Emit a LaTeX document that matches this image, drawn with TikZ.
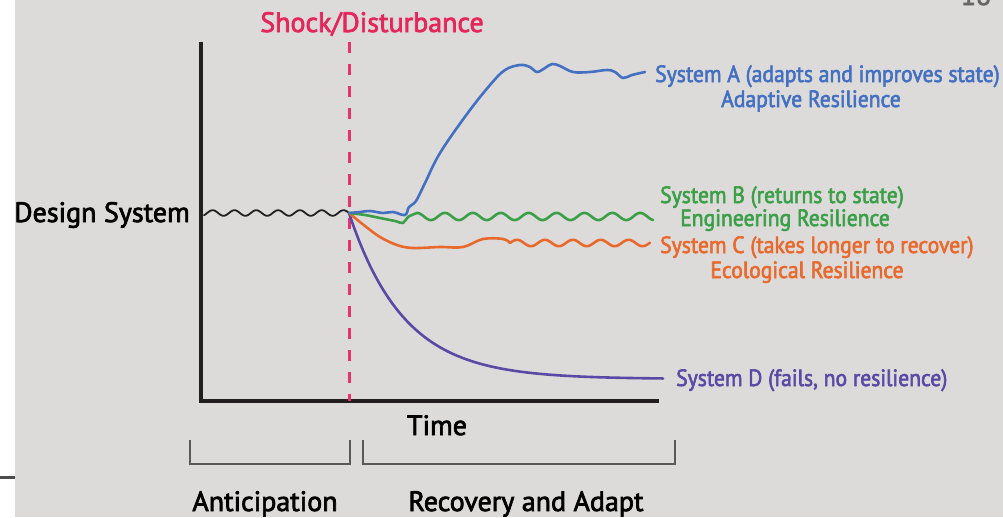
\documentclass[tikz,border=0pt]{standalone}
\usepackage{fontspec}
\setmainfont[FakeBold=2.5]{PT Sans}
\newfontfamily\lblfont[FakeStretch=0.92,FakeBold=2.5]{PT Sans}
\begin{document}
\begin{tikzpicture}[x=1pt,y=-1pt,
  big/.style={inner sep=0pt,font=\fontsize{28}{30}\selectfont},
  lbl/.style={inner sep=0pt,font=\lblfont\fontsize{23.5}{26}\selectfont},
  curve/.style={line width=2.6pt,line cap=round,line join=round},
  bracket/.style={draw=black!65,line width=1.2pt}]
\definecolor{bg}{HTML}{DCDBDA}
\definecolor{axis}{HTML}{231F20}
\definecolor{cA}{HTML}{4470C2}
\definecolor{cB}{HTML}{3B9F48}
\definecolor{cC}{HTML}{E9692D}
\definecolor{cD}{HTML}{5A4AA5}
\definecolor{shock}{HTML}{E5265A}
\definecolor{shockline}{HTML}{E6336B}
\useasboundingbox (0,0) rectangle (1003,517);
\fill[white] (0,0) rectangle (15,517);
\fill[bg] (15,0) rectangle (1003,517);
\coordinate (sl0) at (0,477); \coordinate (sl1) at (15,477);
\draw[black!70,line width=3pt] (sl0) -- (sl1);
\node[anchor=base,text=black!60,font=\fontsize{28}{30}\selectfont] (pg) at (976,5) {18};
% axes
\coordinate (o) at (201,401);
\coordinate (ytop) at (201,42);
\coordinate (xend) at (659,401);
\draw[axis,line width=3.5pt] (ytop) -- (o) -- (xend);
% shock line
\coordinate (s0) at (349,42);
\coordinate (s1) at (349,401);
\draw[shockline,line width=3pt,dash pattern=on 11pt off 11pt] (s0) -- (s1);
\node[big,text=shock,anchor=base] (shk) at (372,32) {Shock/Disturbance};
% baseline wave
\draw[axis,line width=1.8pt,line cap=round] plot[domain=204:349,samples=120] (\x,{213+2.8*sin((\x-349)*16.5)});
% System D
\draw[cD,curve] plot[domain=349:663,samples=120] (\x,{379-166*exp(-(\x-349)/55)});
% System C
\draw[cC,curve] plot[smooth,tension=0.6] coordinates {(349,213) (365,226) (380,237) (397,245) (413,248) (440,247) (463,247) (483,239) (503,239) (510,243)}
  -- plot[domain=510:650,samples=100] (\x,{243-3.2*sin((\x-510)*12.9)});
% System B
\draw[cB,curve] plot[smooth,tension=0.6] coordinates {(349,213) (365,215) (380,218) (395,221) (403,223) (408,217) (417,213)}
  -- plot[domain=417:653,samples=160] (\x,{216.5-3.6*cos((\x-417)*12.9)});
% System A
\draw[cA,curve] plot[smooth,tension=0.6] coordinates {(349,213) (360,212) (370,211) (383,213) (393,212) (405,215) (409,207) (416,201) (425,183) (440,153) (467,114) (490,85) (505,70) (520,65) (530,67) (537,72) (545,68) (552,64) (560,66) (573,72) (590,72) (607,70) (615,72) (623,78) (632,75) (645,72)};
% labels
\node[big,anchor=base east] (ds) at (190,222) {Design System};
\node[lbl,text=cA,anchor=base west] (la1) at (655,82) {System A (adapts and improves state)};
\node[lbl,text=cA,anchor=base] (la2) at (811,107) {Adaptive Resilience};
\node[lbl,text=cB,anchor=base west] (lb1) at (660,203) {System B (returns to state)};
\node[lbl,text=cB,anchor=base] (lb2) at (785,226) {Engineering Resilience};
\node[lbl,text=cC,anchor=base west] (lc1) at (660,253) {System C (takes longer to recover)};
\node[lbl,text=cC,anchor=base] (lc2) at (807,278) {Ecological Resilience};
\node[lbl,text=cD,anchor=base west] (ld1) at (676,386) {System D (fails, no resilience)};
\node[big,anchor=base] (time) at (437,435) {Time};
% brackets
\draw[bracket] (190,440) -- (190,464) -- (350,464) -- (350,440);
\draw[bracket] (363,440) -- (363,464) -- (675,464) -- (675,440);
\node[big,anchor=base] (ant) at (265,511) {Anticipation};
\node[big,anchor=base] (rec) at (526,511) {Recovery and Adapt};
\end{tikzpicture}
\end{document}
